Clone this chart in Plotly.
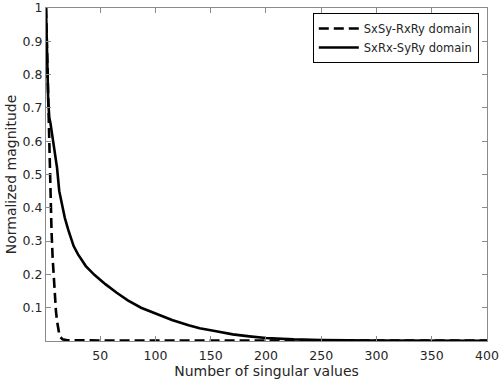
import plotly.graph_objects as go

# Solid series: SxRx-SyRy domain (index, normalized magnitude)
solid_idx = [1, 2, 3, 4, 5, 7, 9, 11, 13, 15, 18, 21, 26, 30, 37, 45, 55, 65, 75, 87,
             100, 115, 130, 140, 155, 170, 185, 200, 225, 250, 300, 350, 400]
solid_val = [1.0, 0.85, 0.72, 0.67, 0.655, 0.61, 0.57, 0.52, 0.45, 0.415, 0.37, 0.335, 0.285,
             0.26, 0.225, 0.198, 0.17, 0.145, 0.122, 0.1, 0.083, 0.063, 0.047, 0.038, 0.029,
             0.02, 0.014, 0.009, 0.005, 0.003, 0.0015, 0.001, 0.0006]

# Dashed series: SxSy-RxRy domain
dash_idx = [1, 2, 3, 4, 5, 6, 7, 8, 9, 10, 11, 12, 13, 14, 16, 20, 50, 100, 200, 300, 400]
dash_val = [1.0, 0.85, 0.7, 0.55, 0.42, 0.33, 0.25, 0.19, 0.14, 0.09, 0.06, 0.035, 0.02,
            0.012, 0.005, 0.002, 0.001, 0.001, 0.001, 0.001, 0.001]

x_ticks = [50, 100, 150, 200, 250, 300, 350, 400]
y_ticks = [0.1, 0.2, 0.3, 0.4, 0.5, 0.6, 0.7, 0.8, 0.9, 1]
y_tick_text = ["0.1", "0.2", "0.3", "0.4", "0.5", "0.6", "0.7", "0.8", "0.9", "1"]

fig = go.Figure()
fig.add_trace(go.Scatter(x=dash_idx, y=dash_val, mode="lines", name="SxSy-RxRy domain",
                         line=dict(color="black", width=2.6, dash="10px,5px")))
fig.add_trace(go.Scatter(x=solid_idx, y=solid_val, mode="lines", name="SxRx-SyRy domain",
                         line=dict(color="black", width=2.6)))

axis_common = dict(showline=True, linecolor="#8a8a8a", linewidth=1, mirror="ticks",
                   ticks="inside", ticklen=5, tickcolor="#8a8a8a", showgrid=False,
                   zeroline=False, automargin=False, ticklabeloverflow="allow",
                   tickfont=dict(family="DejaVu Sans", size=12.5, color="#262626"))

fig.update_layout(
    width=500, height=383,
    margin=dict(l=46, r=13, t=8, b=42),
    paper_bgcolor="white", plot_bgcolor="white",
    font=dict(family="DejaVu Sans", color="#262626"),
    xaxis=dict(range=[1, 400], tickvals=x_ticks, ticklabelstandoff=3,
               title=dict(text="Number of singular values", font=dict(size=14), standoff=4),
               **axis_common),
    yaxis=dict(range=[0, 1], tickvals=y_ticks, ticktext=y_tick_text,
               title=dict(text="Normalized magnitude", font=dict(size=14), standoff=2),
               **axis_common),
    legend=dict(x=0.605, y=0.985, xanchor="left", yanchor="top",
                bgcolor="white", bordercolor="black", borderwidth=1, itemwidth=40,
                font=dict(size=11.5, color="#262626"), tracegroupgap=0),
    showlegend=True,
)

fig.write_html("out.html", config={"displayModeBar": False},
               post_script="document.body.style.margin='0';")
